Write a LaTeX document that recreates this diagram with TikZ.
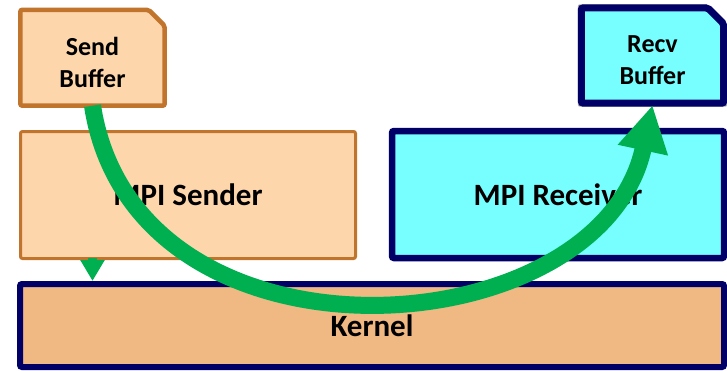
\documentclass[tikz,border=0pt]{standalone}
\usepackage{fontspec}
\setmainfont{Carlito}
\usetikzlibrary{arrows.meta,shadows,backgrounds}
\definecolor{peachfill}{HTML}{FDD6AC}
\definecolor{kernelfill}{HTML}{F0B882}
\definecolor{cyanfill}{HTML}{77FFFF}
\definecolor{brownline}{HTML}{C0742C}
\definecolor{navyline}{HTML}{000066}
\definecolor{flowgreen}{HTML}{00B050}
\begin{document}
\begin{tikzpicture}[x=1pt,y=-1pt,
  bigtext/.style={font=\fontsize{31}{36}\selectfont\bfseries, inner sep=0pt, align=center},
  buftext/.style={font=\fontsize{26}{32}\selectfont\bfseries, inner sep=0pt, align=center},
  sendside/.style={bigtext, draw=brownline, fill=peachfill, line width=3pt, rounded corners=2pt},
  recvside/.style={bigtext, draw=navyline, fill=cyanfill, line width=6.5pt, rounded corners=2pt,
    drop shadow={opacity=0.3, shadow xshift=2pt, shadow yshift=-2pt}},
  kernelbox/.style={bigtext, draw=navyline, fill=kernelfill, line width=6pt, rounded corners=2pt,
    drop shadow={opacity=0.3, shadow xshift=2pt, shadow yshift=-2pt}},
  bufshape/.style={inner sep=0pt},
  flow/.style={draw=flowgreen, line width=17pt, -{Triangle[length=46pt,width=48pt]}},
  smallflow/.style={draw=flowgreen, line width=9pt, -{Triangle[length=21pt,width=23pt]}}
]
\useasboundingbox (0,0) rectangle (727,370);

% main boxes
\node[kernelbox, minimum width=704pt, minimum height=83pt] (kernel) at (372,325.5) {Kernel};
\node[sendside, minimum width=335pt, minimum height=127pt] (sender) at (188,195) {MPI Sender};
\node[recvside, minimum width=332pt, minimum height=127pt] (receiver) at (558,194.5) {MPI Receiver};

% buffers: outline frames, with their labels set slightly low
\node[bufshape, minimum width=144pt, minimum height=95.5pt] (sendbuf) at (92.5,57.75) {};
\node[bufshape, minimum width=142pt, minimum height=95pt] (recvbuf) at (652.5,55.5) {};
\node[buftext] (sendlbl) at ([yshift=-4.5pt]sendbuf.center) {Send\\Buffer};
\node[buftext] (recvlbl) at ([yshift=-5pt]recvbuf.center) {Recv\\Buffer};

\begin{scope}[on background layer]
  \draw[draw=brownline, fill=peachfill, line width=4.5pt, rounded corners=2pt]
    (sendbuf.south west) -- (sendbuf.north west) -- ([xshift=-16pt]sendbuf.north east)
    -- ([yshift=-16pt]sendbuf.north east) -- (sendbuf.south east) -- cycle;
  \fill[black, opacity=0.3, rounded corners=2pt, shift={(2.5pt,-2.5pt)}]
    ([shift={(-3.5pt,-3.5pt)}]recvbuf.south west) -- ([shift={(-3.5pt,3.5pt)}]recvbuf.north west)
    -- ([shift={(-16pt,3.5pt)}]recvbuf.north east)
    -- ([shift={(3.5pt,-16pt)}]recvbuf.north east) -- ([shift={(3.5pt,-3.5pt)}]recvbuf.south east) -- cycle;
  \draw[draw=navyline, fill=cyanfill, line width=7pt, rounded corners=2pt]
    (recvbuf.south west) -- (recvbuf.north west) -- ([xshift=-16pt]recvbuf.north east)
    -- ([yshift=-16pt]recvbuf.north east) -- (recvbuf.south east) -- cycle;
\end{scope}

% hand-off from the sender down into the kernel
\draw[smallflow] ([yshift=2pt]sendbuf.south |- sender.south) -- (sendbuf.south |- kernel.north);

% data path from the send buffer to the receive buffer
\draw[flow] (sendbuf.south) .. controls (135,380) and (600,350) .. ([yshift=-2pt]recvbuf.south);
\end{tikzpicture}
\end{document}
